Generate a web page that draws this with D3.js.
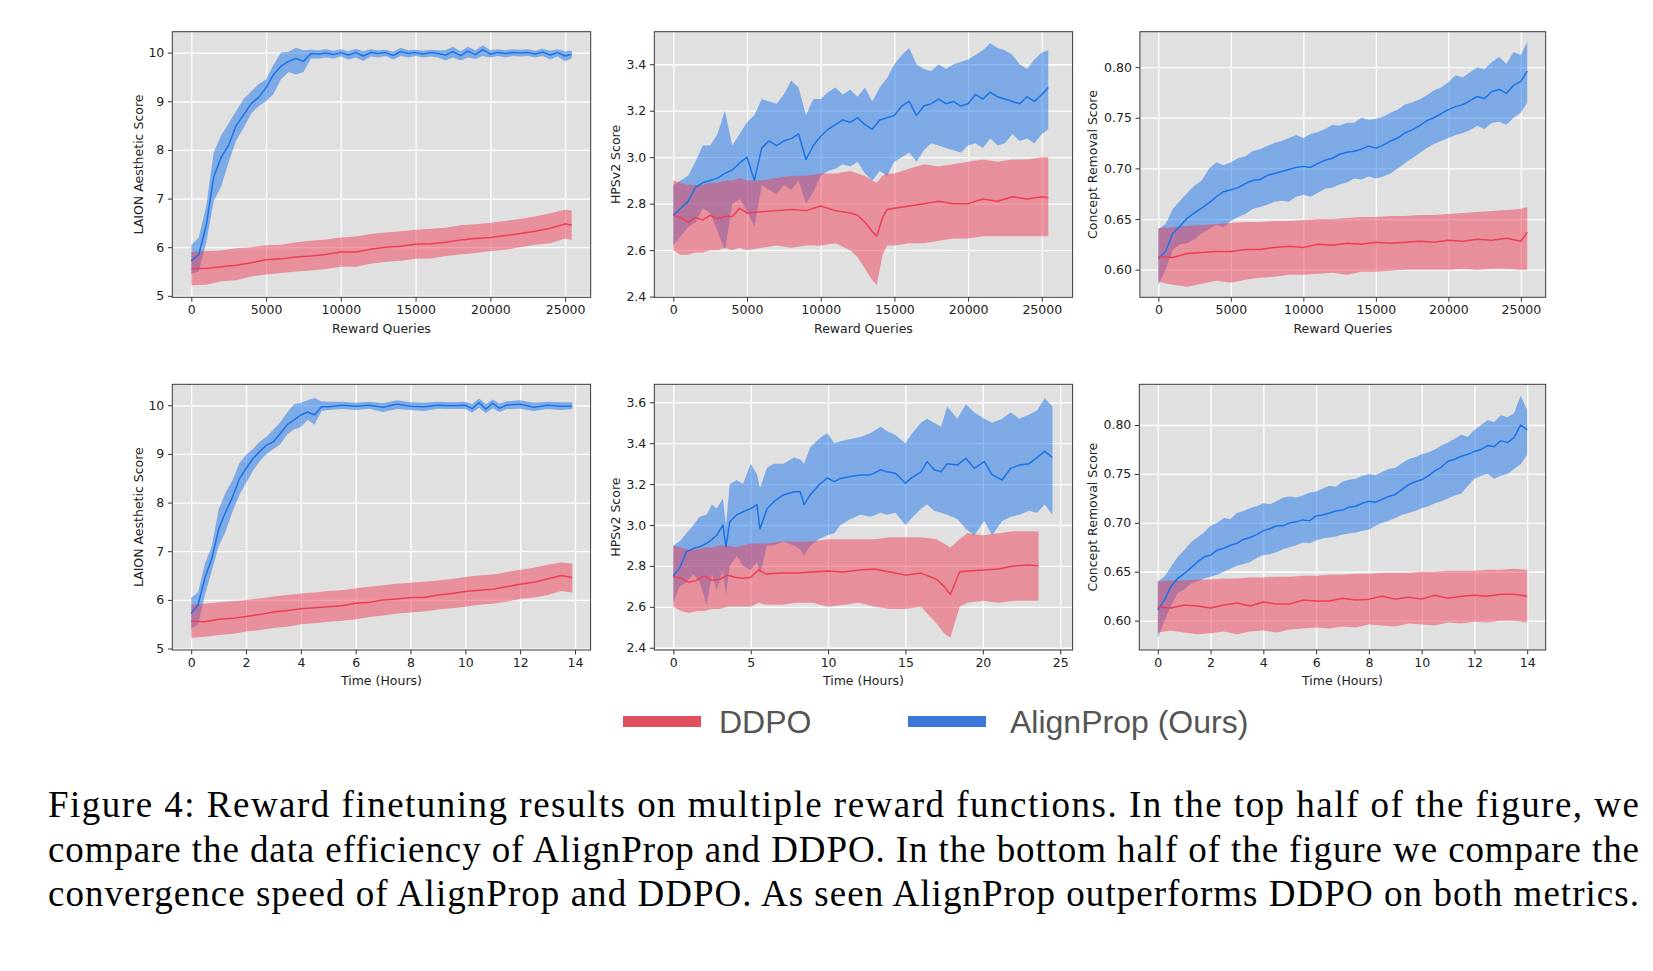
<!DOCTYPE html>
<html>
<head>
<meta charset="utf-8">
<script src="https://cdn.jsdelivr.net/npm/d3@7"></script>
<style>
body { margin: 0; background: #fff; }
svg { display: block; }
</style>
</head>
<body>
<svg id="fig" width="1653" height="971"></svg>
<script>
// x grids
var q500 = [0,500,1000,1500,2000,2500,3000,3500,4000,4500,5000,5500,6000,6500,7000,7500,8000,8500,9000,9500,
  10000,10500,11000,11500,12000,12500,13000,13500,14000,14500,15000,15500,16000,16500,17000,17500,18000,18500,19000,19500,
  20000,20500,21000,21500,22000,22500,23000,23500,24000,24500,25000,25440];
var q1000 = [0,1000,2000,3000,4000,5000,6000,7000,8000,9000,10000,11000,12000,13000,14000,15000,16000,17000,18000,19000,
  20000,21000,22000,23000,24000,25000,25440];
var hpsRedQ = [0,500,1000,1500,2000,2500,3000,3500,4000,4500,5000,6000,7000,8000,9000,10000,11000,12000,12500,13000,
  13500,13800,14200,14500,15000,16000,17000,18000,19000,20000,21000,22000,23000,24000,25000,25440];
var laionBlueH = [0,0.25,0.5,0.75,1,1.25,1.5,1.75,2,2.25,2.5,2.75,3,3.25,3.5,3.75,4,4.25,4.5,4.75,
  5,5.5,6,6.5,7,7.5,8,8.5,9,9.5,10,10.25,10.5,10.75,11,11.25,11.5,12,12.5,13,13.5,13.9];
var halfHours = [0,0.5,1,1.5,2,2.5,3,3.5,4,4.5,5,5.5,6,6.5,7,7.5,8,8.5,9,9.5,10,10.5,11,11.5,12,12.5,13,13.5,13.9];
var halfHours14 = [0,0.5,1,1.5,2,2.5,3,3.5,4,4.5,5,5.5,6,6.5,7,7.5,8,8.5,9,9.5,10,10.5,11,11.5,12,12.5,13,13.5,14];
var hpsBlueH = [0,0.4,0.85,1.3,1.7,2.15,2.5,2.8,3.2,3.4,3.65,4.1,4.5,5.0,5.4,5.6,6.05,6.5,7.1,7.8,
  8.2,8.45,8.85,9.4,9.95,10.4,10.8,11.45,12.1,12.75,13.4,13.8,14.35,15.0,15.35,16.0,16.4,16.85,17.3,17.7,
  18.35,18.9,19.45,20.1,20.6,21.25,21.8,22.35,23.0,23.5,24.0,24.5];
var hpsRedH = [0,0.5,1,1.5,2,2.5,3,3.5,4,4.5,5,5.5,6,7,8,9,10,11,12,13,14,15,16,17,17.5,17.9,18.5,19,20,21,22,23,23.6];
var quarterHours = [0,0.25,0.5,0.75,1,1.25,1.5,1.75,2,2.25,2.5,2.75,3,3.25,3.5,3.75,4,4.25,4.5,4.75,
  5,5.25,5.5,5.75,6,6.25,6.5,6.75,7,7.25,7.5,7.75,8,8.25,8.5,8.75,9,9.25,9.5,9.75,
  10,10.25,10.5,10.75,11,11.25,11.5,11.75,12,12.25,12.5,12.75,13,13.25,13.5,13.75,14];

// top left: LAION vs queries
var laionQBlueMean = [5.72,5.85,6.45,7.45,7.85,8.1,8.5,8.72,8.95,9.08,9.28,9.55,9.72,9.82,9.88,9.82,9.98,9.97,9.99,9.96,
  10.0,9.95,10.0,9.93,10.0,9.98,10.0,9.94,10.02,9.98,10.0,9.97,10.0,9.98,9.95,10.02,9.94,10.03,9.96,10.06,
  9.97,10.0,9.98,10.0,9.99,10.0,9.97,10.01,9.95,10.0,9.93,9.96];
var laionQBlueLo = [5.45,5.5,6.1,6.95,7.25,7.75,8.2,8.45,8.75,8.9,9.0,9.15,9.45,9.6,9.55,9.6,9.88,9.88,9.9,9.88,
  9.92,9.86,9.9,9.83,9.92,9.9,9.93,9.86,9.93,9.9,9.93,9.9,9.92,9.9,9.84,9.9,9.84,9.9,9.87,9.93,
  9.9,9.93,9.9,9.93,9.92,9.93,9.9,9.93,9.86,9.92,9.82,9.88];
var laionQBlueHi = [6.05,6.2,6.85,7.95,8.3,8.55,8.8,9.05,9.2,9.35,9.45,9.75,10.0,10.02,10.1,10.05,10.06,10.05,10.07,10.04,
  10.07,10.03,10.08,10.03,10.07,10.05,10.06,10.02,10.1,10.05,10.06,10.04,10.06,10.05,10.05,10.12,10.03,10.12,10.05,10.15,
  10.05,10.07,10.05,10.07,10.06,10.07,10.04,10.08,10.04,10.07,10.03,10.04];
var laionQRedMean = [5.56,5.56,5.6,5.63,5.68,5.74,5.76,5.8,5.82,5.85,5.9,5.9,5.96,6.0,6.02,6.06,6.07,6.1,6.15,6.18,
  6.2,6.24,6.28,6.33,6.39,6.48,6.45];
var laionQRedLo = [5.22,5.23,5.3,5.32,5.4,5.44,5.47,5.5,5.52,5.55,5.6,5.6,5.66,5.7,5.72,5.76,5.77,5.82,5.85,5.88,
  5.92,5.95,6.0,6.05,6.08,6.18,6.15];
var laionQRedHi = [5.9,5.92,5.93,5.98,6.0,6.04,6.05,6.1,6.13,6.16,6.2,6.22,6.27,6.3,6.33,6.36,6.38,6.4,6.45,6.47,
  6.5,6.54,6.58,6.63,6.7,6.77,6.75];

// top middle: HPSv2 vs queries
var hpsQBlueMean = [2.75,2.78,2.81,2.87,2.89,2.9,2.91,2.93,2.945,2.975,3.0,2.9,3.04,3.07,3.05,3.07,3.08,3.1,2.99,3.05,
  3.09,3.12,3.14,3.16,3.15,3.17,3.14,3.12,3.16,3.17,3.18,3.22,3.24,3.18,3.22,3.23,3.25,3.23,3.24,3.22,
  3.23,3.27,3.25,3.28,3.26,3.25,3.24,3.23,3.26,3.24,3.27,3.3];
var hpsQBlueLo = [2.62,2.66,2.7,2.72,2.78,2.76,2.68,2.6,2.8,2.82,2.77,2.7,2.88,2.86,2.84,2.88,2.86,2.9,2.8,2.85,
  2.92,2.94,2.95,2.97,2.96,2.98,2.93,2.9,2.94,2.92,2.98,3.0,3.02,2.98,3.03,3.06,3.05,3.04,3.03,3.02,
  3.05,3.06,3.04,3.08,3.05,3.06,3.1,3.07,3.08,3.06,3.1,3.12];
var hpsQBlueHi = [2.88,2.9,2.92,2.98,3.05,3.05,3.1,3.2,3.05,3.1,3.15,3.18,3.25,3.24,3.23,3.27,3.33,3.3,3.18,3.25,
  3.25,3.28,3.3,3.27,3.29,3.26,3.3,3.24,3.3,3.34,3.4,3.44,3.47,3.4,3.38,3.37,3.4,3.38,3.4,3.41,
  3.42,3.44,3.46,3.49,3.47,3.46,3.44,3.4,3.38,3.42,3.45,3.46];
var hpsQRedMean = [2.75,2.74,2.72,2.74,2.73,2.75,2.735,2.745,2.745,2.78,2.76,2.765,2.77,2.775,2.77,2.79,2.77,2.76,2.75,2.72,
  2.68,2.66,2.74,2.775,2.78,2.79,2.8,2.81,2.8,2.8,2.82,2.81,2.83,2.82,2.83,2.825];
var hpsQRedLo = [2.6,2.58,2.58,2.59,2.59,2.6,2.6,2.61,2.6,2.61,2.6,2.61,2.62,2.61,2.62,2.62,2.63,2.6,2.57,2.52,
  2.47,2.45,2.58,2.62,2.62,2.63,2.63,2.64,2.65,2.65,2.66,2.66,2.66,2.66,2.66,2.66];
var hpsQRedHi = [2.9,2.89,2.88,2.88,2.88,2.89,2.89,2.9,2.9,2.91,2.9,2.9,2.91,2.92,2.92,2.93,2.93,2.94,2.93,2.92,
  2.9,2.89,2.92,2.93,2.93,2.95,2.97,2.96,2.97,2.98,2.99,2.98,2.99,2.99,3.0,3.0];

// top right: concept removal vs queries
var concQBlueMean = [0.611,0.618,0.636,0.643,0.651,0.656,0.661,0.666,0.672,0.677,0.679,0.681,0.685,0.688,0.689,0.693,0.695,0.697,0.699,0.701,
  0.702,0.701,0.705,0.708,0.71,0.714,0.716,0.717,0.719,0.722,0.72,0.723,0.727,0.73,0.735,0.738,0.742,0.747,0.75,0.754,
  0.758,0.761,0.763,0.767,0.771,0.769,0.776,0.778,0.774,0.782,0.786,0.796];
var concQBlueLo = [0.585,0.6,0.62,0.625,0.626,0.63,0.636,0.64,0.644,0.642,0.648,0.652,0.655,0.66,0.662,0.664,0.667,0.668,0.667,0.672,
  0.674,0.672,0.676,0.68,0.681,0.684,0.686,0.69,0.689,0.692,0.69,0.692,0.695,0.7,0.705,0.71,0.715,0.72,0.724,0.727,
  0.73,0.733,0.735,0.738,0.742,0.739,0.745,0.746,0.743,0.75,0.755,0.765];
var concQBlueHi = [0.64,0.645,0.66,0.668,0.676,0.683,0.688,0.7,0.706,0.703,0.706,0.71,0.712,0.717,0.719,0.722,0.725,0.727,0.73,0.733,
  0.73,0.734,0.736,0.739,0.743,0.742,0.745,0.745,0.75,0.748,0.749,0.751,0.755,0.758,0.763,0.765,0.768,0.772,0.777,0.78,
  0.785,0.792,0.79,0.795,0.8,0.798,0.805,0.81,0.803,0.815,0.812,0.825];
var concQRedMean = [0.613,0.612,0.616,0.617,0.618,0.618,0.62,0.62,0.622,0.623,0.622,0.625,0.624,0.626,0.625,0.627,0.626,0.627,0.628,0.627,
  0.629,0.628,0.63,0.629,0.631,0.628,0.637];
var concQRedLo = [0.588,0.585,0.583,0.586,0.589,0.587,0.59,0.592,0.593,0.595,0.595,0.596,0.597,0.595,0.598,0.598,0.599,0.6,0.6,0.6,
  0.6,0.601,0.6,0.601,0.601,0.6,0.6];
var concQRedHi = [0.641,0.642,0.643,0.644,0.645,0.646,0.647,0.647,0.648,0.648,0.649,0.65,0.65,0.651,0.652,0.652,0.653,0.653,0.654,0.654,
  0.655,0.656,0.657,0.658,0.659,0.66,0.662];

// bottom left: LAION vs hours
var laionHBlueMean = [5.72,5.9,6.45,6.85,7.45,7.8,8.1,8.48,8.7,8.9,9.05,9.18,9.25,9.42,9.6,9.7,9.8,9.86,9.8,9.97,
  9.97,10.0,9.98,10.0,9.96,10.02,9.98,9.97,10.0,9.99,10.0,9.93,10.05,9.92,10.04,9.94,10.0,10.02,9.96,10.0,9.98,9.98];
var laionHBlueLo = [5.4,5.5,6.1,6.6,7.1,7.4,7.8,8.15,8.4,8.65,8.85,9.0,9.1,9.2,9.4,9.5,9.55,9.7,9.6,9.88,
  9.9,9.92,9.9,9.93,9.86,9.92,9.9,9.88,9.93,9.92,9.92,9.85,9.95,9.84,9.94,9.86,9.92,9.93,9.88,9.92,9.9,9.92];
var laionHBlueHi = [6.05,6.15,6.75,7.1,7.85,8.2,8.45,8.8,8.98,9.1,9.25,9.35,9.5,9.65,9.85,10.02,10.05,10.1,10.15,10.08,
  10.07,10.07,10.05,10.07,10.04,10.1,10.06,10.05,10.07,10.06,10.07,10.02,10.14,10.02,10.12,10.03,10.08,10.1,10.05,10.07,10.06,10.06];
var laionHRedMean = [5.56,5.55,5.6,5.62,5.66,5.7,5.75,5.78,5.82,5.84,5.86,5.88,5.93,5.95,6.0,6.02,6.05,6.05,6.1,6.13,
  6.17,6.2,6.22,6.27,6.32,6.36,6.43,6.5,6.46];
var laionHRedLo = [5.22,5.24,5.28,5.3,5.35,5.38,5.42,5.45,5.5,5.52,5.55,5.57,5.6,5.65,5.68,5.72,5.74,5.76,5.8,5.83,
  5.86,5.9,5.92,5.96,6.02,6.05,6.1,6.18,6.15];
var laionHRedHi = [5.9,5.92,5.95,5.97,6.0,6.03,6.07,6.1,6.13,6.15,6.18,6.2,6.24,6.27,6.3,6.33,6.35,6.37,6.4,6.43,
  6.47,6.5,6.52,6.57,6.62,6.66,6.72,6.77,6.75];

// bottom middle: HPSv2 vs hours
var hpsHBlueMean = [2.752,2.788,2.87,2.886,2.894,2.91,2.93,2.95,3.0,2.894,3.016,3.05,3.065,3.08,3.1,2.98,3.08,3.114,3.147,3.163,
  3.163,3.1,3.147,3.196,3.23,3.212,3.228,3.237,3.245,3.245,3.27,3.26,3.253,3.204,3.228,3.26,3.31,3.27,3.26,3.3,
  3.293,3.326,3.277,3.31,3.245,3.22,3.277,3.293,3.3,3.33,3.36,3.33];
var hpsHBlueLo = [2.62,2.7,2.72,2.76,2.72,2.61,2.76,2.68,2.78,2.66,2.8,2.85,2.8,2.78,2.82,2.76,2.9,2.9,2.92,2.9,
  2.88,2.85,2.9,2.93,2.95,2.96,3.0,3.03,3.05,3.04,3.06,3.05,3.06,3.0,3.03,3.08,3.1,3.07,3.06,3.05,
  3.03,2.98,2.95,3.02,2.95,3.02,3.04,3.05,3.07,3.06,3.1,3.05];
var hpsHBlueHi = [2.9,2.92,2.96,3.0,3.04,3.05,3.1,3.08,3.13,3.0,3.2,3.22,3.2,3.3,3.25,3.18,3.28,3.3,3.3,3.33,
  3.32,3.3,3.38,3.42,3.45,3.4,3.41,3.42,3.43,3.45,3.48,3.46,3.44,3.4,3.44,3.5,3.52,3.5,3.48,3.58,
  3.52,3.59,3.55,3.52,3.5,3.52,3.55,3.52,3.54,3.56,3.62,3.58];
var hpsHRedMean = [2.75,2.74,2.72,2.73,2.75,2.73,2.735,2.755,2.745,2.74,2.745,2.78,2.76,2.765,2.765,2.77,2.775,2.77,2.78,2.785,
  2.77,2.755,2.765,2.735,2.7,2.66,2.77,2.775,2.78,2.785,2.8,2.805,2.8];
var hpsHRedLo = [2.6,2.58,2.57,2.58,2.58,2.59,2.59,2.6,2.6,2.6,2.6,2.62,2.61,2.61,2.62,2.62,2.6,2.61,2.62,2.6,
  2.59,2.59,2.6,2.52,2.47,2.45,2.6,2.62,2.63,2.62,2.63,2.63,2.63];
var hpsHRedHi = [2.9,2.89,2.88,2.88,2.89,2.89,2.9,2.9,2.89,2.9,2.91,2.91,2.91,2.92,2.92,2.92,2.93,2.93,2.93,2.93,
  2.94,2.94,2.94,2.93,2.91,2.89,2.93,2.96,2.95,2.96,2.97,2.97,2.97];

// bottom right: concept removal vs hours
var concHBlueMean = [0.611,0.621,0.635,0.643,0.648,0.654,0.66,0.665,0.667,0.672,0.674,0.677,0.679,0.683,0.685,0.688,0.692,0.694,0.697,0.697,
  0.7,0.701,0.703,0.702,0.707,0.708,0.71,0.712,0.713,0.716,0.717,0.72,0.722,0.721,0.724,0.727,0.729,0.734,0.739,0.742,
  0.744,0.748,0.753,0.757,0.763,0.765,0.768,0.77,0.773,0.775,0.779,0.778,0.784,0.782,0.787,0.8,0.795];
var concHBlueLo = [0.582,0.6,0.615,0.628,0.632,0.638,0.64,0.643,0.645,0.647,0.65,0.653,0.656,0.658,0.66,0.664,0.667,0.668,0.67,0.673,
  0.675,0.677,0.68,0.679,0.682,0.684,0.685,0.686,0.688,0.689,0.69,0.692,0.693,0.697,0.7,0.702,0.705,0.708,0.71,0.712,
  0.715,0.717,0.72,0.722,0.725,0.728,0.73,0.738,0.745,0.748,0.75,0.745,0.748,0.75,0.755,0.76,0.77];
var concHBlueHi = [0.64,0.645,0.655,0.665,0.672,0.68,0.685,0.69,0.697,0.7,0.705,0.704,0.71,0.712,0.715,0.717,0.72,0.719,0.722,0.726,
  0.727,0.726,0.728,0.731,0.732,0.735,0.738,0.737,0.742,0.744,0.745,0.748,0.75,0.749,0.752,0.755,0.756,0.761,0.765,0.767,
  0.77,0.772,0.775,0.779,0.782,0.786,0.79,0.788,0.795,0.8,0.805,0.803,0.81,0.808,0.812,0.83,0.815];
var concHRedMean = [0.614,0.613,0.616,0.615,0.613,0.616,0.618,0.615,0.619,0.617,0.617,0.621,0.62,0.62,0.623,0.621,0.622,0.625,0.622,0.624,
  0.622,0.626,0.623,0.625,0.626,0.625,0.627,0.627,0.625];
var concHRedLo = [0.588,0.59,0.588,0.586,0.587,0.589,0.586,0.589,0.59,0.588,0.591,0.592,0.593,0.592,0.594,0.593,0.596,0.595,0.594,0.597,
  0.596,0.595,0.598,0.597,0.599,0.598,0.6,0.6,0.598];
var concHRedHi = [0.64,0.641,0.641,0.642,0.642,0.643,0.643,0.644,0.644,0.645,0.645,0.646,0.646,0.647,0.647,0.648,0.648,0.649,0.649,0.649,
  0.65,0.65,0.651,0.651,0.651,0.652,0.652,0.653,0.652];

// tick labels
var queryTicks = [0,5000,10000,15000,20000,25000];
var hourTicks14 = [0,2,4,6,8,10,12,14];
var hourTicks25 = [0,5,10,15,20,25];
var laionTicks = [5,6,7,8,9,10];
var hpsTicksTop = [2.4,2.6,2.8,3.0,3.2,3.4];
var hpsTicksBottom = [2.4,2.6,2.8,3.0,3.2,3.4,3.6];
var concTicks = [0.60,0.65,0.70,0.75,0.80];

var methodNames = ["DDPO", "AlignProp (Ours)"];
var captionLines = [
  "Figure 4: Reward finetuning results on multiple reward functions. In the top half of the figure, we",
  "compare the data efficiency of AlignProp and DDPO. In the bottom half of the figure we compare the",
  "convergence speed of AlignProp and DDPO. As seen AlignProp outperforms DDPO on both metrics."
];

var blueColor = "#1a73e8", redColor = "#ee3e55";
var tickFont = "'DejaVu Sans', sans-serif";

var panels = [
  {box: [172.3, 31.7, 590.7, 297.3], xDomain: [-1272, 26712], yDomain: [4.97, 10.43],
   xTicks: queryTicks, yTicks: laionTicks, yFmt: "d", xLabel: "Reward Queries", yLabel: "LAION Aesthetic Score", yLabelX: 138.3,
   blue: {x: q500, mean: laionQBlueMean, lo: laionQBlueLo, hi: laionQBlueHi},
   red: {x: q1000, mean: laionQRedMean, lo: laionQRedLo, hi: laionQRedHi}},
  {box: [654.3, 31.7, 1072.6, 297.3], xDomain: [-1290, 27090], yDomain: [2.397, 3.54],
   xTicks: queryTicks, yTicks: hpsTicksTop, yFmt: ".1f", xLabel: "Reward Queries", yLabel: "HPSv2 Score", yLabelX: 615.7,
   blue: {x: q500, mean: hpsQBlueMean, lo: hpsQBlueLo, hi: hpsQBlueHi},
   red: {x: hpsRedQ, mean: hpsQRedMean, lo: hpsQRedLo, hi: hpsQRedHi}},
  {box: [1139.9, 31.7, 1545.7, 297.3], xDomain: [-1272, 26712], yDomain: [0.5727, 0.835],
   xTicks: queryTicks, yTicks: concTicks, yFmt: ".2f", xLabel: "Reward Queries", yLabel: "Concept Removal Score", yLabelX: 1092.7,
   blue: {x: q500, mean: concQBlueMean, lo: concQBlueLo, hi: concQBlueHi},
   red: {x: q1000, mean: concQRedMean, lo: concQRedLo, hi: concQRedHi}},
  {box: [172.3, 384.3, 590.6, 650], xDomain: [-0.69, 14.57], yDomain: [4.97, 10.43],
   xTicks: hourTicks14, yTicks: laionTicks, yFmt: "d", xLabel: "Time (Hours)", yLabel: "LAION Aesthetic Score", yLabelX: 138.3,
   blue: {x: laionBlueH, mean: laionHBlueMean, lo: laionHBlueLo, hi: laionHBlueHi},
   red: {x: halfHours, mean: laionHRedMean, lo: laionHRedLo, hi: laionHRedHi}},
  {box: [654.3, 384.3, 1072.6, 650], xDomain: [-1.23, 25.8], yDomain: [2.389, 3.688],
   xTicks: hourTicks25, yTicks: hpsTicksBottom, yFmt: ".1f", xLabel: "Time (Hours)", yLabel: "HPSv2 Score", yLabelX: 615.7,
   blue: {x: hpsBlueH, mean: hpsHBlueMean, lo: hpsHBlueLo, hi: hpsHBlueHi},
   red: {x: hpsRedH, mean: hpsHRedMean, lo: hpsHRedLo, hi: hpsHRedHi}},
  {box: [1139.3, 384.3, 1545.7, 650], xDomain: [-0.7, 14.7], yDomain: [0.570, 0.8416],
   xTicks: hourTicks14, yTicks: concTicks, yFmt: ".2f", xLabel: "Time (Hours)", yLabel: "Concept Removal Score", yLabelX: 1092.7,
   blue: {x: quarterHours, mean: concHBlueMean, lo: concHBlueLo, hi: concHBlueHi},
   red: {x: halfHours14, mean: concHRedMean, lo: concHRedLo, hi: concHRedHi}}
];

var svg = d3.select("#fig");
svg.append("rect").attr("width", 1653).attr("height", 971).attr("fill", "#fff");

function rows(s) {
  return s.x.map(function(v, i) { return {x: v, m: s.mean[i], lo: s.lo[i], hi: s.hi[i]}; });
}

function drawPanel(p, idx) {
  var left = p.box[0], top = p.box[1], right = p.box[2], bottom = p.box[3];
  var x = d3.scaleLinear().domain(p.xDomain).range([left, right]);
  var y = d3.scaleLinear().domain(p.yDomain).range([bottom, top]);
  var g = svg.append("g");

  g.append("clipPath").attr("id", "clip" + idx)
    .append("rect")
      .attr("x", left).attr("y", top)
      .attr("width", right - left).attr("height", bottom - top);

  g.append("rect")
      .attr("x", left).attr("y", top)
      .attr("width", right - left).attr("height", bottom - top)
      .attr("fill", "#e0e0e0");

  // white grid
  var gx = g.append("g")
      .attr("transform", "translate(0," + bottom + ")")
      .call(d3.axisBottom(x).tickValues(p.xTicks).tickSize(-(bottom - top)).tickFormat(""));
  var gy = g.append("g")
      .attr("transform", "translate(" + left + ",0)")
      .call(d3.axisLeft(y).tickValues(p.yTicks).tickSize(-(right - left)).tickFormat(""));
  [gx, gy].forEach(function(a) {
    a.select(".domain").remove();
    a.selectAll("line").attr("stroke", "#fff").attr("stroke-width", 1.3);
  });

  var area = d3.area()
      .x(function(d) { return x(d.x); })
      .y0(function(d) { return y(d.lo); })
      .y1(function(d) { return y(d.hi); });
  var line = d3.line()
      .x(function(d) { return x(d.x); })
      .y(function(d) { return y(d.m); });

  var plot = g.append("g").attr("clip-path", "url(#clip" + idx + ")");
  var blue = rows(p.blue), red = rows(p.red);
  plot.append("path").datum(blue).attr("d", area).attr("fill", blueColor).attr("fill-opacity", 0.5);
  plot.append("path").datum(red).attr("d", area).attr("fill", redColor).attr("fill-opacity", 0.5);
  plot.append("path").datum(blue).attr("d", line)
      .attr("fill", "none").attr("stroke", blueColor).attr("stroke-width", 1.5).attr("stroke-linejoin", "round");
  plot.append("path").datum(red).attr("d", line)
      .attr("fill", "none").attr("stroke", redColor).attr("stroke-width", 1.5).attr("stroke-linejoin", "round");

  g.append("rect")
      .attr("x", left).attr("y", top)
      .attr("width", right - left).attr("height", bottom - top)
      .attr("fill", "none").attr("stroke", "#3a3a3a").attr("stroke-width", 1);

  var ax = g.append("g")
      .attr("transform", "translate(0," + bottom + ")")
      .call(d3.axisBottom(x).tickValues(p.xTicks).tickFormat(d3.format("d")).tickSize(4.4).tickPadding(3.6));
  var ay = g.append("g")
      .attr("transform", "translate(" + left + ",0)")
      .call(d3.axisLeft(y).tickValues(p.yTicks).tickFormat(d3.format(p.yFmt)).tickSize(4.4).tickPadding(3.6));
  [ax, ay].forEach(function(a) {
    a.select(".domain").remove();
    a.attr("font-size", 12.5).style("font-family", tickFont);
    a.selectAll("line").attr("stroke", "#333");
    a.selectAll("text").attr("fill", "#222");
  });

  g.append("text")
      .attr("x", (left + right) / 2).attr("y", bottom + 35.2)
      .attr("text-anchor", "middle")
      .style("font-family", tickFont).attr("font-size", 12.5).attr("fill", "#222")
      .text(p.xLabel);

  g.append("text")
      .attr("transform", "translate(" + p.yLabelX + "," + (top + bottom) / 2 + ") rotate(-90)")
      .attr("text-anchor", "middle").attr("dy", "0.35em")
      .style("font-family", tickFont).attr("font-size", 12.5).attr("fill", "#222")
      .text(p.yLabel);
}

panels.forEach(drawPanel);

// legend
var legend = svg.append("g");
var legendItems = [
  {name: methodNames[0], color: "#df4f5f", x0: 623, x1: 701, tx: 719},
  {name: methodNames[1], color: "#3b78d8", x0: 908, x1: 986, tx: 1010}
];
legendItems.forEach(function(it) {
  legend.append("rect")
      .attr("x", it.x0).attr("y", 716).attr("width", it.x1 - it.x0).attr("height", 11)
      .attr("fill", it.color);
  legend.append("text")
      .attr("x", it.tx).attr("y", 733)
      .style("font-family", "'Liberation Sans', Arial, sans-serif").attr("font-size", 32)
      .attr("fill", "#555")
      .text(it.name);
});

// caption
svg.append("g").selectAll("text")
  .data(captionLines)
  .enter().append("text")
    .attr("x", 48)
    .attr("y", function(d, i) { return 817 + i * 44.6; })
    .attr("textLength", 1591).attr("lengthAdjust", "spacing")
    .style("font-family", "'Liberation Serif', 'Times New Roman', serif").attr("font-size", 37)
    .attr("fill", "#000")
    .text(function(d) { return d; });
</script>
</body>
</html>
